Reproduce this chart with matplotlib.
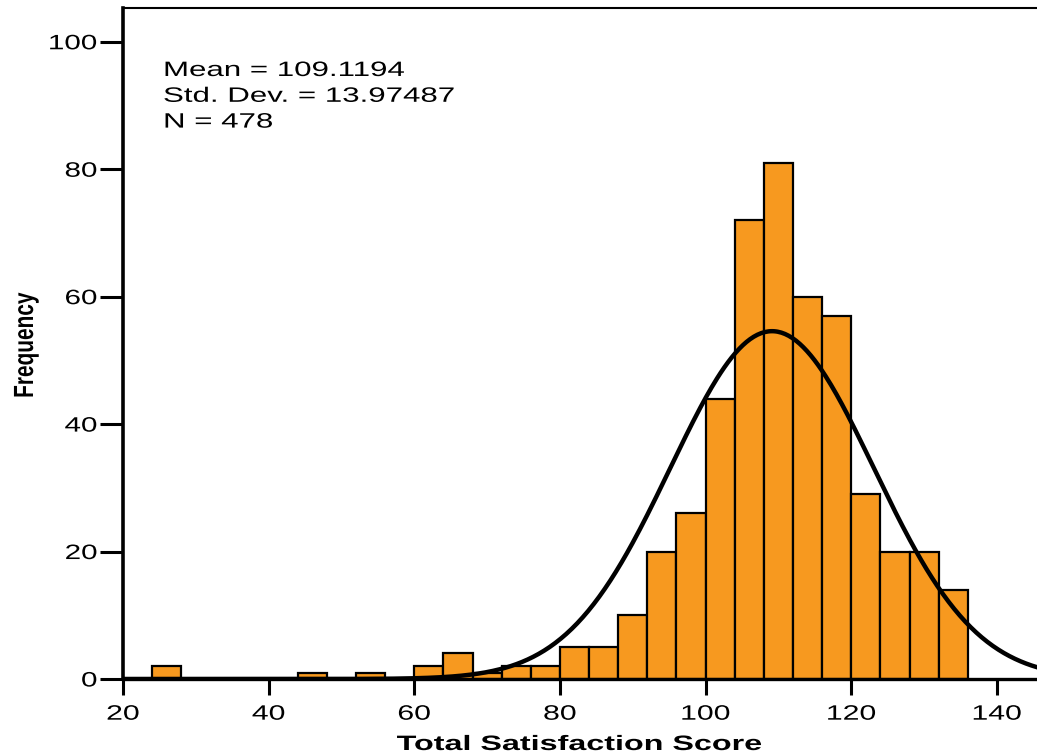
import numpy as np
import matplotlib
matplotlib.use('Agg')
import matplotlib.pyplot as plt
from matplotlib.patheffects import AbstractPathEffect
from matplotlib.transforms import Affine2D

# histogram bins (left edges, width 4) and counts
bin_left = [24, 28, 32, 36, 40, 44, 48, 52, 56, 60, 64, 68, 72, 76,
            80, 84, 88, 92, 96, 100, 104, 108, 112, 116, 120, 124, 128, 132]
counts = [2, 0, 0, 0, 0, 1, 0, 1, 0, 2, 4, 1, 2, 2,
          5, 5, 10, 20, 26, 44, 72, 81, 60, 57, 29, 20, 20, 14]
bin_width = 4

mean = 109.1194
std_dev = 13.97487
n = 478

x_ticks = [20, 40, 60, 80, 100, 120, 140]
y_ticks = [0, 20, 40, 60, 80, 100]


class WideText(AbstractPathEffect):
    """Widen glyphs horizontally on screen, about a chosen anchor."""

    def __init__(self, factor, anchor='origin'):
        super().__init__()
        self.factor = factor
        self.anchor = anchor

    def draw_path(self, renderer, gc, tpath, affine, rgbFace=None):
        ext = tpath.get_extents(affine)
        if self.anchor == 'center':
            x0 = 0.5 * (ext.x0 + ext.x1)
        elif self.anchor == 'right':
            x0 = ext.x1
        else:
            x0 = affine.transform((0, 0))[0]
        widen = Affine2D().translate(-x0, 0).scale(self.factor, 1).translate(x0, 0)
        renderer.draw_path(gc, tpath, affine + widen, rgbFace)


plt.rcParams.update({'font.family': ['Liberation Sans', 'DejaVu Sans'], 'font.size': 15})

fig = plt.figure(figsize=(10.37, 7.54), dpi=100)
ax = fig.add_axes([0.1186, 0.0995, 0.8814, 0.8899])

ax.bar(bin_left, counts, width=bin_width, align='edge', color='#F7991F',
       edgecolor='black', linewidth=1.6, zorder=2)

# fitted normal curve scaled to counts
xs = np.linspace(20, 146, 500)
curve = n * bin_width / (std_dev * np.sqrt(2 * np.pi)) * np.exp(-0.5 * ((xs - mean) / std_dev) ** 2)
ax.plot(xs, curve, color='black', linewidth=3.2, zorder=3)

ax.set_xlim(20, 145.5)
ax.set_ylim(0, 105.3)
ax.set_xticks(x_ticks)
ax.set_yticks(y_ticks)

ax.spines['right'].set_visible(False)
ax.spines['left'].set_linewidth(2.6)
ax.spines['bottom'].set_linewidth(2.4)
ax.spines['top'].set_linewidth(1.5)
ax.spines['bottom'].set_zorder(4)
ax.tick_params(axis='y', direction='out', length=16.5, width=2.2, pad=2, labelsize=15)
ax.tick_params(axis='x', direction='out', length=11.5, width=2.2, pad=7, labelsize=15)

for lbl in ax.get_xticklabels():
    lbl.set_path_effects([WideText(1.45, 'center')])
for lbl in ax.get_yticklabels():
    lbl.set_path_effects([WideText(1.42, 'right')])

fig.text(580 / 1037, 1 - 750 / 754, 'Total Satisfaction Score', fontsize=15,
         fontweight='bold', ha='center', va='baseline',
         path_effects=[WideText(1.55, 'center')])
fig.text(33 / 1037, 1 - 345 / 754, 'Frequency', fontsize=15, fontweight='bold',
         rotation=90, rotation_mode='anchor', ha='center', va='baseline',
         path_effects=[WideText(1.33, 'origin')])

# summary statistics
stats = ['Mean = {}'.format(mean), 'Std. Dev. = {}'.format(std_dev), 'N = {}'.format(n)]
for i, line in enumerate(stats):
    fig.text(163 / 1037, 1 - (76 + 25.8 * i) / 754, line, fontsize=15,
             ha='left', va='baseline', path_effects=[WideText(1.5, 'origin')])

fig.savefig('out.png', dpi=100)
